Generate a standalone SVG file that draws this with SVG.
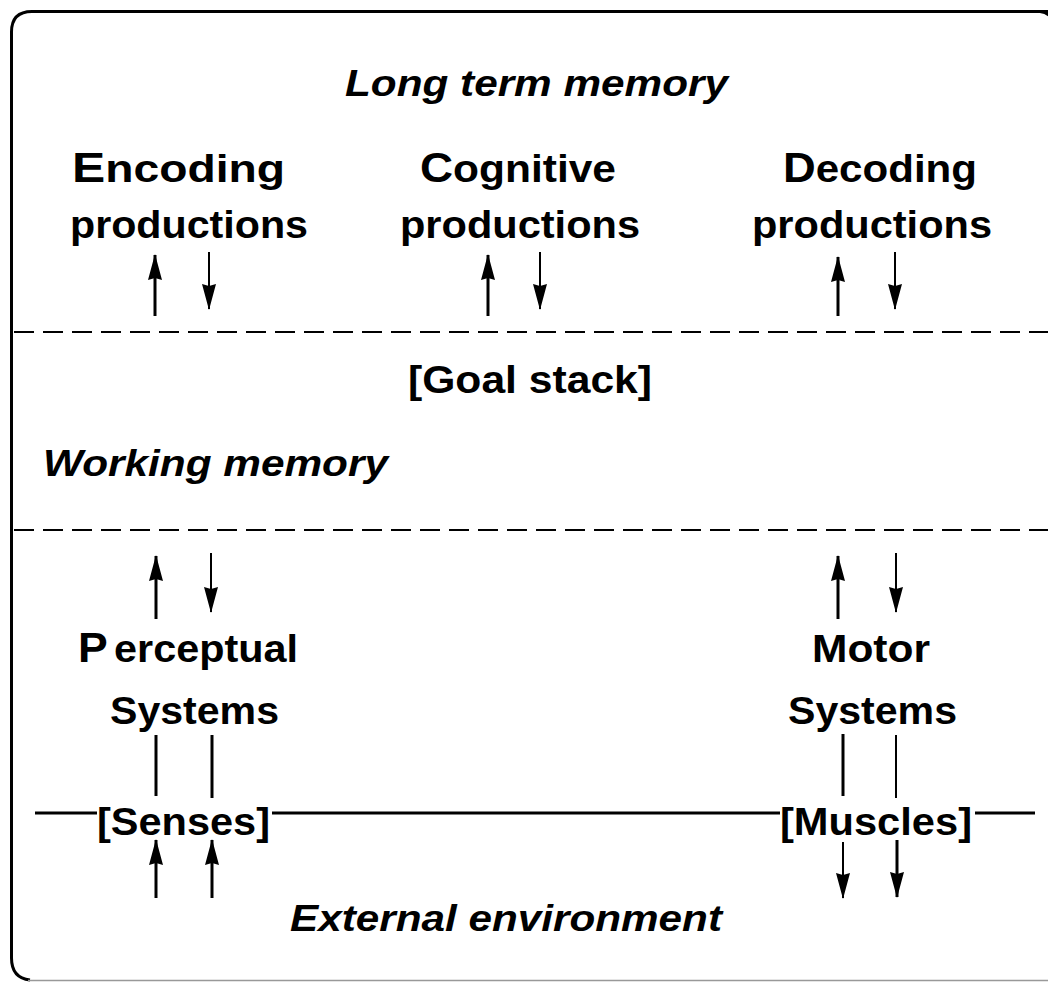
<svg xmlns="http://www.w3.org/2000/svg" width="1048" height="982" viewBox="0 0 1048 982">
<style>
.b{font-family:"Liberation Sans",Arial,sans-serif;font-weight:bold;font-size:39px;fill:#000}
.i{font-family:"Liberation Sans",Arial,sans-serif;font-weight:bold;font-style:italic;font-size:37px;fill:#000}
.cap{font-size:42px}
.sh{stroke:#000;stroke-width:3;fill:none}
.th{stroke:#000;stroke-width:2;fill:none}
.dash{stroke:#000;stroke-width:2;stroke-dasharray:20 9;fill:none}
</style>
<defs>
<marker id="ah" viewBox="0 0 26 16" refX="25" refY="8" markerWidth="26" markerHeight="16" markerUnits="userSpaceOnUse" orient="auto">
<path d="M0,1 L26,8 L0,15 L2,8 Z" fill="#000"/>
</marker>
</defs>
<rect width="1048" height="982" fill="#fff"/>
<g id="frame">
<path d="M1060 11.5 H32 Q11.5 11.5 11.5 32 V958 Q11.5 978 30 980" stroke="#000" stroke-width="3" fill="none"/>
<path d="M1040 11.5 Q1046 12 1050 16" stroke="#000" stroke-width="3" fill="none"/>
<line x1="28" y1="980.5" x2="1048" y2="980.5" stroke="#999" stroke-width="1.5"/>
</g>
<g id="dividers">
<line class="dash" x1="14" y1="332" x2="1048" y2="332"/>
<line class="dash" x1="14" y1="530" x2="1048" y2="530"/>
</g>
<g id="ltm"><text class="i" x="345" y="96" textLength="383" lengthAdjust="spacingAndGlyphs">Long term memory</text></g>
<g id="encoding">
<text class="b" x="72" y="182" textLength="213" lengthAdjust="spacingAndGlyphs"><tspan class="cap">E</tspan>ncoding</text>
<text class="b" x="70" y="238" textLength="238" lengthAdjust="spacingAndGlyphs">productions</text>
</g>
<g id="cognitive">
<text class="b" x="420" y="182" textLength="196" lengthAdjust="spacingAndGlyphs"><tspan class="cap">C</tspan>ognitive</text>
<text class="b" x="400" y="238" textLength="240" lengthAdjust="spacingAndGlyphs">productions</text>
</g>
<g id="decoding">
<text class="b" x="783" y="182" textLength="194" lengthAdjust="spacingAndGlyphs"><tspan class="cap">D</tspan>ecoding</text>
<text class="b" x="752" y="238" textLength="240" lengthAdjust="spacingAndGlyphs">productions</text>
</g>
<g id="goalstack"><text class="b" x="408" y="393" textLength="244" lengthAdjust="spacingAndGlyphs">[Goal stack]</text></g>
<g id="wm"><text class="i" x="43" y="476" textLength="345" lengthAdjust="spacingAndGlyphs">Working memory</text></g>
<g id="perceptual">
<text class="b" x="78" y="662" textLength="220" lengthAdjust="spacingAndGlyphs"><tspan class="cap">P</tspan><tspan dx="6">erceptual</tspan></text>
<text class="b" x="110" y="724" textLength="169" lengthAdjust="spacingAndGlyphs">Systems</text>
</g>
<g id="motor">
<text class="b" x="812" y="662" textLength="118" lengthAdjust="spacingAndGlyphs">Motor</text>
<text class="b" x="788" y="724" textLength="169" lengthAdjust="spacingAndGlyphs">Systems</text>
</g>
<g id="senses"><text class="b" x="97" y="835" textLength="173" lengthAdjust="spacingAndGlyphs">[Senses]</text></g>
<g id="muscles"><text class="b" x="780" y="835" textLength="192" lengthAdjust="spacingAndGlyphs">[Muscles]</text></g>
<g id="external"><text class="i" x="290" y="931" textLength="432" lengthAdjust="spacingAndGlyphs">External environment</text></g>
<g id="connectors">
<line class="sh" x1="155" y1="316" x2="155" y2="255" marker-end="url(#ah)"/>
<line class="th" x1="209" y1="252" x2="209" y2="309" marker-end="url(#ah)"/>
<line class="sh" x1="488" y1="316" x2="488" y2="255" marker-end="url(#ah)"/>
<line class="th" x1="540" y1="252" x2="540" y2="309" marker-end="url(#ah)"/>
<line class="sh" x1="838" y1="316" x2="838" y2="257" marker-end="url(#ah)"/>
<line class="th" x1="895" y1="252" x2="895" y2="309" marker-end="url(#ah)"/>
<line class="sh" x1="156" y1="619" x2="156" y2="556" marker-end="url(#ah)"/>
<line class="th" x1="211" y1="553" x2="211" y2="612" marker-end="url(#ah)"/>
<line class="sh" x1="838" y1="619" x2="838" y2="556" marker-end="url(#ah)"/>
<line class="th" x1="896" y1="553" x2="896" y2="612" marker-end="url(#ah)"/>
<line class="sh" x1="156" y1="735" x2="156" y2="796"/>
<line class="sh" x1="212" y1="735" x2="212" y2="798"/>
<line class="sh" x1="843" y1="734" x2="843" y2="796"/>
<line class="th" x1="896" y1="735" x2="896" y2="798"/>
<line class="sh" x1="35" y1="813" x2="97" y2="813"/>
<line class="sh" x1="272" y1="813" x2="780" y2="813"/>
<line class="sh" x1="975" y1="813" x2="1035" y2="813"/>
<line class="sh" x1="156" y1="898" x2="156" y2="840" marker-end="url(#ah)"/>
<line class="sh" x1="212" y1="898" x2="212" y2="840" marker-end="url(#ah)"/>
<line class="th" x1="843" y1="842" x2="843" y2="898" marker-end="url(#ah)"/>
<line class="sh" x1="897" y1="840" x2="897" y2="897" marker-end="url(#ah)"/>
</g>
</svg>
